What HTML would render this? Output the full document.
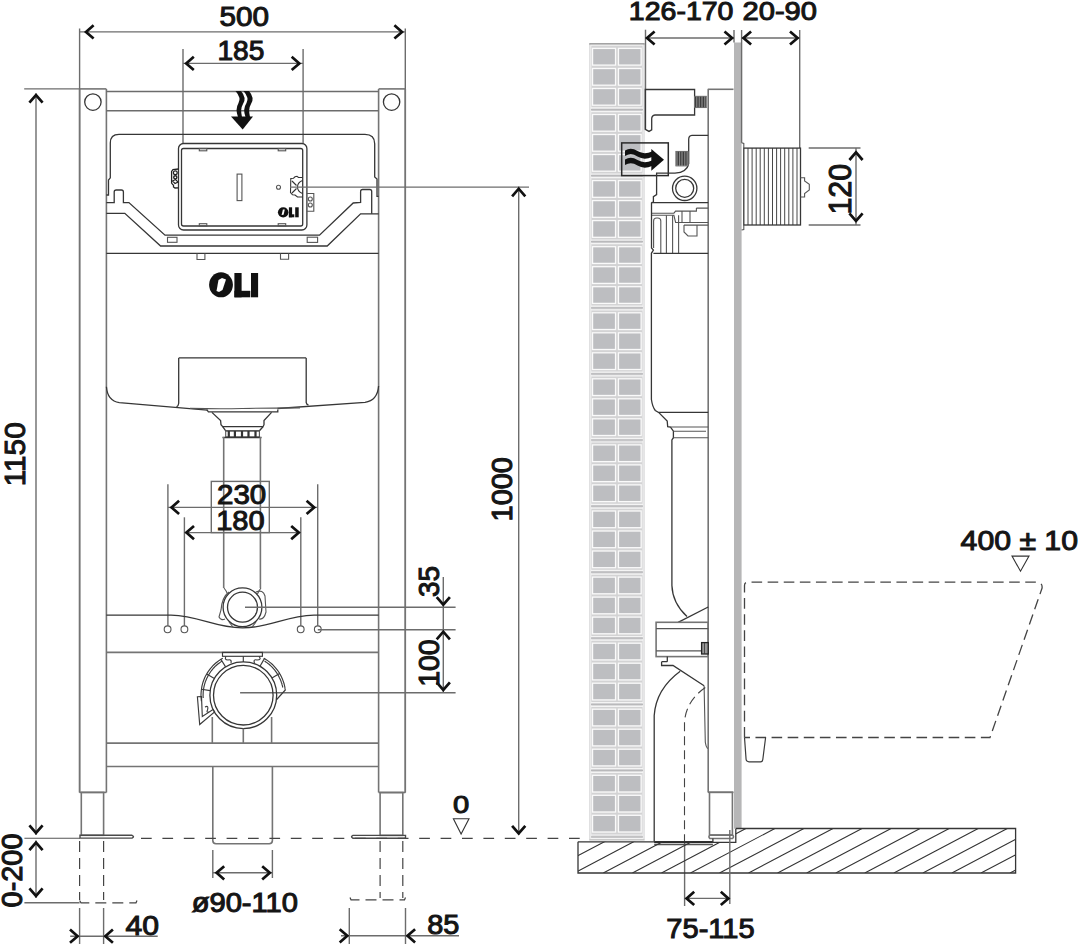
<!DOCTYPE html>
<html><head><meta charset="utf-8"><title>OLI frame drawing</title>
<style>html,body{margin:0;padding:0;background:#fff;width:1078px;height:944px;overflow:hidden}svg{display:block}</style>
</head><body>
<svg width="1078" height="944" viewBox="0 0 1078 944">
<rect width="1078" height="944" fill="#fff"/>
<rect x="589.3" y="43.5" width="55.3" height="796" fill="#d3d3d4"/>
<line x1="589.3" y1="43.9" x2="644.6" y2="43.9" stroke="#a3a3a3" stroke-width="1.8"/>
<rect x="590.8" y="45.2" width="52.3" height="794" fill="none" stroke="#f4f4f4" stroke-width="1"/>
<rect x="592.55" y="48.4" width="23.0" height="16.7" fill="#bdbec1" stroke="#fafafa" stroke-width="1.3"/>
<rect x="618.4499999999999" y="48.4" width="22.7" height="16.7" fill="#bdbec1" stroke="#fafafa" stroke-width="1.3"/>
<rect x="592.55" y="68.5" width="23.0" height="16.7" fill="#bdbec1" stroke="#fafafa" stroke-width="1.3"/>
<rect x="618.4499999999999" y="68.5" width="22.7" height="16.7" fill="#bdbec1" stroke="#fafafa" stroke-width="1.3"/>
<rect x="592.55" y="88.5" width="23.0" height="16.7" fill="#bdbec1" stroke="#fafafa" stroke-width="1.3"/>
<rect x="618.4499999999999" y="88.5" width="22.7" height="16.7" fill="#bdbec1" stroke="#fafafa" stroke-width="1.3"/>
<line x1="591" y1="107.9" x2="643" y2="107.9" stroke="#f4f4f4" stroke-width="1.2"/>
<line x1="591" y1="109.6" x2="643" y2="109.6" stroke="#b9b9bb" stroke-width="1.2"/>
<line x1="591" y1="111.6" x2="643" y2="111.6" stroke="#f4f4f4" stroke-width="1.2"/>
<rect x="592.55" y="114.5" width="23.0" height="16.7" fill="#bdbec1" stroke="#fafafa" stroke-width="1.3"/>
<rect x="618.4499999999999" y="114.5" width="22.7" height="16.7" fill="#bdbec1" stroke="#fafafa" stroke-width="1.3"/>
<rect x="592.55" y="134.5" width="23.0" height="16.7" fill="#bdbec1" stroke="#fafafa" stroke-width="1.3"/>
<rect x="618.4499999999999" y="134.5" width="22.7" height="16.7" fill="#bdbec1" stroke="#fafafa" stroke-width="1.3"/>
<rect x="592.55" y="154.5" width="23.0" height="16.7" fill="#bdbec1" stroke="#fafafa" stroke-width="1.3"/>
<rect x="618.4499999999999" y="154.5" width="22.7" height="16.7" fill="#bdbec1" stroke="#fafafa" stroke-width="1.3"/>
<line x1="591" y1="174.0" x2="643" y2="174.0" stroke="#f4f4f4" stroke-width="1.2"/>
<line x1="591" y1="175.7" x2="643" y2="175.7" stroke="#b9b9bb" stroke-width="1.2"/>
<line x1="591" y1="177.7" x2="643" y2="177.7" stroke="#f4f4f4" stroke-width="1.2"/>
<rect x="592.55" y="180.6" width="23.0" height="16.7" fill="#bdbec1" stroke="#fafafa" stroke-width="1.3"/>
<rect x="618.4499999999999" y="180.6" width="22.7" height="16.7" fill="#bdbec1" stroke="#fafafa" stroke-width="1.3"/>
<rect x="592.55" y="200.6" width="23.0" height="16.7" fill="#bdbec1" stroke="#fafafa" stroke-width="1.3"/>
<rect x="618.4499999999999" y="200.6" width="22.7" height="16.7" fill="#bdbec1" stroke="#fafafa" stroke-width="1.3"/>
<rect x="592.55" y="220.6" width="23.0" height="16.7" fill="#bdbec1" stroke="#fafafa" stroke-width="1.3"/>
<rect x="618.4499999999999" y="220.6" width="22.7" height="16.7" fill="#bdbec1" stroke="#fafafa" stroke-width="1.3"/>
<line x1="591" y1="240.0" x2="643" y2="240.0" stroke="#f4f4f4" stroke-width="1.2"/>
<line x1="591" y1="241.7" x2="643" y2="241.7" stroke="#b9b9bb" stroke-width="1.2"/>
<line x1="591" y1="243.7" x2="643" y2="243.7" stroke="#f4f4f4" stroke-width="1.2"/>
<rect x="592.55" y="246.7" width="23.0" height="16.7" fill="#bdbec1" stroke="#fafafa" stroke-width="1.3"/>
<rect x="618.4499999999999" y="246.7" width="22.7" height="16.7" fill="#bdbec1" stroke="#fafafa" stroke-width="1.3"/>
<rect x="592.55" y="266.7" width="23.0" height="16.7" fill="#bdbec1" stroke="#fafafa" stroke-width="1.3"/>
<rect x="618.4499999999999" y="266.7" width="22.7" height="16.7" fill="#bdbec1" stroke="#fafafa" stroke-width="1.3"/>
<rect x="592.55" y="286.7" width="23.0" height="16.7" fill="#bdbec1" stroke="#fafafa" stroke-width="1.3"/>
<rect x="618.4499999999999" y="286.7" width="22.7" height="16.7" fill="#bdbec1" stroke="#fafafa" stroke-width="1.3"/>
<line x1="591" y1="306.1" x2="643" y2="306.1" stroke="#f4f4f4" stroke-width="1.2"/>
<line x1="591" y1="307.8" x2="643" y2="307.8" stroke="#b9b9bb" stroke-width="1.2"/>
<line x1="591" y1="309.8" x2="643" y2="309.8" stroke="#f4f4f4" stroke-width="1.2"/>
<rect x="592.55" y="312.8" width="23.0" height="16.7" fill="#bdbec1" stroke="#fafafa" stroke-width="1.3"/>
<rect x="618.4499999999999" y="312.8" width="22.7" height="16.7" fill="#bdbec1" stroke="#fafafa" stroke-width="1.3"/>
<rect x="592.55" y="332.8" width="23.0" height="16.7" fill="#bdbec1" stroke="#fafafa" stroke-width="1.3"/>
<rect x="618.4499999999999" y="332.8" width="22.7" height="16.7" fill="#bdbec1" stroke="#fafafa" stroke-width="1.3"/>
<rect x="592.55" y="352.8" width="23.0" height="16.7" fill="#bdbec1" stroke="#fafafa" stroke-width="1.3"/>
<rect x="618.4499999999999" y="352.8" width="22.7" height="16.7" fill="#bdbec1" stroke="#fafafa" stroke-width="1.3"/>
<line x1="591" y1="372.2" x2="643" y2="372.2" stroke="#f4f4f4" stroke-width="1.2"/>
<line x1="591" y1="373.9" x2="643" y2="373.9" stroke="#b9b9bb" stroke-width="1.2"/>
<line x1="591" y1="375.9" x2="643" y2="375.9" stroke="#f4f4f4" stroke-width="1.2"/>
<rect x="592.55" y="378.8" width="23.0" height="16.7" fill="#bdbec1" stroke="#fafafa" stroke-width="1.3"/>
<rect x="618.4499999999999" y="378.8" width="22.7" height="16.7" fill="#bdbec1" stroke="#fafafa" stroke-width="1.3"/>
<rect x="592.55" y="398.8" width="23.0" height="16.7" fill="#bdbec1" stroke="#fafafa" stroke-width="1.3"/>
<rect x="618.4499999999999" y="398.8" width="22.7" height="16.7" fill="#bdbec1" stroke="#fafafa" stroke-width="1.3"/>
<rect x="592.55" y="418.8" width="23.0" height="16.7" fill="#bdbec1" stroke="#fafafa" stroke-width="1.3"/>
<rect x="618.4499999999999" y="418.8" width="22.7" height="16.7" fill="#bdbec1" stroke="#fafafa" stroke-width="1.3"/>
<line x1="591" y1="438.3" x2="643" y2="438.3" stroke="#f4f4f4" stroke-width="1.2"/>
<line x1="591" y1="440.0" x2="643" y2="440.0" stroke="#b9b9bb" stroke-width="1.2"/>
<line x1="591" y1="442.0" x2="643" y2="442.0" stroke="#f4f4f4" stroke-width="1.2"/>
<rect x="592.55" y="444.9" width="23.0" height="16.7" fill="#bdbec1" stroke="#fafafa" stroke-width="1.3"/>
<rect x="618.4499999999999" y="444.9" width="22.7" height="16.7" fill="#bdbec1" stroke="#fafafa" stroke-width="1.3"/>
<rect x="592.55" y="464.9" width="23.0" height="16.7" fill="#bdbec1" stroke="#fafafa" stroke-width="1.3"/>
<rect x="618.4499999999999" y="464.9" width="22.7" height="16.7" fill="#bdbec1" stroke="#fafafa" stroke-width="1.3"/>
<rect x="592.55" y="484.9" width="23.0" height="16.7" fill="#bdbec1" stroke="#fafafa" stroke-width="1.3"/>
<rect x="618.4499999999999" y="484.9" width="22.7" height="16.7" fill="#bdbec1" stroke="#fafafa" stroke-width="1.3"/>
<line x1="591" y1="504.4" x2="643" y2="504.4" stroke="#f4f4f4" stroke-width="1.2"/>
<line x1="591" y1="506.1" x2="643" y2="506.1" stroke="#b9b9bb" stroke-width="1.2"/>
<line x1="591" y1="508.1" x2="643" y2="508.1" stroke="#f4f4f4" stroke-width="1.2"/>
<rect x="592.55" y="511.0" width="23.0" height="16.7" fill="#bdbec1" stroke="#fafafa" stroke-width="1.3"/>
<rect x="618.4499999999999" y="511.0" width="22.7" height="16.7" fill="#bdbec1" stroke="#fafafa" stroke-width="1.3"/>
<rect x="592.55" y="531.0" width="23.0" height="16.7" fill="#bdbec1" stroke="#fafafa" stroke-width="1.3"/>
<rect x="618.4499999999999" y="531.0" width="22.7" height="16.7" fill="#bdbec1" stroke="#fafafa" stroke-width="1.3"/>
<rect x="592.55" y="551.0" width="23.0" height="16.7" fill="#bdbec1" stroke="#fafafa" stroke-width="1.3"/>
<rect x="618.4499999999999" y="551.0" width="22.7" height="16.7" fill="#bdbec1" stroke="#fafafa" stroke-width="1.3"/>
<line x1="591" y1="570.4" x2="643" y2="570.4" stroke="#f4f4f4" stroke-width="1.2"/>
<line x1="591" y1="572.1" x2="643" y2="572.1" stroke="#b9b9bb" stroke-width="1.2"/>
<line x1="591" y1="574.1" x2="643" y2="574.1" stroke="#f4f4f4" stroke-width="1.2"/>
<rect x="592.55" y="577.1" width="23.0" height="16.7" fill="#bdbec1" stroke="#fafafa" stroke-width="1.3"/>
<rect x="618.4499999999999" y="577.1" width="22.7" height="16.7" fill="#bdbec1" stroke="#fafafa" stroke-width="1.3"/>
<rect x="592.55" y="597.1" width="23.0" height="16.7" fill="#bdbec1" stroke="#fafafa" stroke-width="1.3"/>
<rect x="618.4499999999999" y="597.1" width="22.7" height="16.7" fill="#bdbec1" stroke="#fafafa" stroke-width="1.3"/>
<rect x="592.55" y="617.1" width="23.0" height="16.7" fill="#bdbec1" stroke="#fafafa" stroke-width="1.3"/>
<rect x="618.4499999999999" y="617.1" width="22.7" height="16.7" fill="#bdbec1" stroke="#fafafa" stroke-width="1.3"/>
<line x1="591" y1="636.5" x2="643" y2="636.5" stroke="#f4f4f4" stroke-width="1.2"/>
<line x1="591" y1="638.2" x2="643" y2="638.2" stroke="#b9b9bb" stroke-width="1.2"/>
<line x1="591" y1="640.2" x2="643" y2="640.2" stroke="#f4f4f4" stroke-width="1.2"/>
<rect x="592.55" y="643.2" width="23.0" height="16.7" fill="#bdbec1" stroke="#fafafa" stroke-width="1.3"/>
<rect x="618.4499999999999" y="643.2" width="22.7" height="16.7" fill="#bdbec1" stroke="#fafafa" stroke-width="1.3"/>
<rect x="592.55" y="663.2" width="23.0" height="16.7" fill="#bdbec1" stroke="#fafafa" stroke-width="1.3"/>
<rect x="618.4499999999999" y="663.2" width="22.7" height="16.7" fill="#bdbec1" stroke="#fafafa" stroke-width="1.3"/>
<rect x="592.55" y="683.2" width="23.0" height="16.7" fill="#bdbec1" stroke="#fafafa" stroke-width="1.3"/>
<rect x="618.4499999999999" y="683.2" width="22.7" height="16.7" fill="#bdbec1" stroke="#fafafa" stroke-width="1.3"/>
<line x1="591" y1="702.6" x2="643" y2="702.6" stroke="#f4f4f4" stroke-width="1.2"/>
<line x1="591" y1="704.3" x2="643" y2="704.3" stroke="#b9b9bb" stroke-width="1.2"/>
<line x1="591" y1="706.3" x2="643" y2="706.3" stroke="#f4f4f4" stroke-width="1.2"/>
<rect x="592.55" y="709.2" width="23.0" height="16.7" fill="#bdbec1" stroke="#fafafa" stroke-width="1.3"/>
<rect x="618.4499999999999" y="709.2" width="22.7" height="16.7" fill="#bdbec1" stroke="#fafafa" stroke-width="1.3"/>
<rect x="592.55" y="729.2" width="23.0" height="16.7" fill="#bdbec1" stroke="#fafafa" stroke-width="1.3"/>
<rect x="618.4499999999999" y="729.2" width="22.7" height="16.7" fill="#bdbec1" stroke="#fafafa" stroke-width="1.3"/>
<rect x="592.55" y="749.2" width="23.0" height="16.7" fill="#bdbec1" stroke="#fafafa" stroke-width="1.3"/>
<rect x="618.4499999999999" y="749.2" width="22.7" height="16.7" fill="#bdbec1" stroke="#fafafa" stroke-width="1.3"/>
<line x1="591" y1="768.7" x2="643" y2="768.7" stroke="#f4f4f4" stroke-width="1.2"/>
<line x1="591" y1="770.4" x2="643" y2="770.4" stroke="#b9b9bb" stroke-width="1.2"/>
<line x1="591" y1="772.4" x2="643" y2="772.4" stroke="#f4f4f4" stroke-width="1.2"/>
<rect x="592.55" y="775.3" width="23.0" height="16.7" fill="#bdbec1" stroke="#fafafa" stroke-width="1.3"/>
<rect x="618.4499999999999" y="775.3" width="22.7" height="16.7" fill="#bdbec1" stroke="#fafafa" stroke-width="1.3"/>
<rect x="592.55" y="795.3" width="23.0" height="16.7" fill="#bdbec1" stroke="#fafafa" stroke-width="1.3"/>
<rect x="618.4499999999999" y="795.3" width="22.7" height="16.7" fill="#bdbec1" stroke="#fafafa" stroke-width="1.3"/>
<rect x="592.55" y="815.3" width="23.0" height="16.7" fill="#bdbec1" stroke="#fafafa" stroke-width="1.3"/>
<rect x="618.4499999999999" y="815.3" width="22.7" height="16.7" fill="#bdbec1" stroke="#fafafa" stroke-width="1.3"/>
<line x1="591" y1="835.0" x2="643" y2="835.0" stroke="#f4f4f4" stroke-width="1.2"/>
<line x1="591" y1="836.8" x2="643" y2="836.8" stroke="#bcbcbe" stroke-width="1.2"/>
<line x1="591" y1="838.5" x2="643" y2="838.5" stroke="#f4f4f4" stroke-width="1.1"/>
<line x1="589.3" y1="839.9" x2="644.6" y2="839.9" stroke="#b0b0b0" stroke-width="1.0"/>
<line x1="79.6" y1="28.5" x2="79.6" y2="792.4" stroke="#6c6c6c" stroke-width="1.4" fill="none"/>
<line x1="405.3" y1="28.5" x2="405.3" y2="792.5" stroke="#6c6c6c" stroke-width="1.4" fill="none"/>
<line x1="79.6" y1="88.9" x2="106.4" y2="88.9" stroke="#747474" stroke-width="1.6" fill="none"/>
<line x1="378.6" y1="88.9" x2="405.3" y2="88.9" stroke="#747474" stroke-width="1.6" fill="none"/>
<line x1="106.4" y1="88.9" x2="106.4" y2="792.4" stroke="#747474" stroke-width="1.6" fill="none"/>
<line x1="378.6" y1="88.9" x2="378.6" y2="792.5" stroke="#747474" stroke-width="1.6" fill="none"/>
<line x1="79.6" y1="88.9" x2="79.6" y2="792.4" stroke="#747474" stroke-width="1.6" fill="none"/>
<line x1="405.3" y1="88.9" x2="405.3" y2="792.5" stroke="#747474" stroke-width="1.6" fill="none"/>
<line x1="79.6" y1="792.4" x2="106.4" y2="792.4" stroke="#747474" stroke-width="1.6" fill="none"/>
<line x1="378.6" y1="792.5" x2="405.3" y2="792.5" stroke="#747474" stroke-width="1.6" fill="none"/>
<line x1="106.4" y1="91.5" x2="378.6" y2="91.5" stroke="#6c6c6c" stroke-width="1.4" fill="none"/>
<line x1="106.4" y1="110.8" x2="378.6" y2="110.8" stroke="#6c6c6c" stroke-width="1.4" fill="none"/>
<circle cx="92.9" cy="102.1" r="8.2" stroke="#363636" stroke-width="1.3" fill="none"/>
<circle cx="391.6" cy="102.1" r="8.2" stroke="#363636" stroke-width="1.3" fill="none"/>
<line x1="24.2" y1="88.9" x2="79.6" y2="88.9" stroke="#6c6c6c" stroke-width="1.4" fill="none"/>
<line x1="80" y1="31.9" x2="405" y2="31.9" stroke="#6c6c6c" stroke-width="1.4" fill="none"/>
<path d="M93.6,25.299999999999997 L86,31.9 L93.6,38.5" stroke="#111" stroke-width="2.7" fill="none" stroke-linejoin="miter" stroke-linecap="butt"/>
<path d="M394.4,25.299999999999997 L402,31.9 L394.4,38.5" stroke="#111" stroke-width="2.7" fill="none" stroke-linejoin="miter" stroke-linecap="butt"/>
<text x="219.5" y="26.2" font-family="Liberation Sans" font-size="28.00" fill="#151515" stroke="#151515" stroke-width="1.05" textLength="49.5" lengthAdjust="spacingAndGlyphs">500</text>
<line x1="183" y1="49" x2="183" y2="143.5" stroke="#6c6c6c" stroke-width="1.4" fill="none"/>
<line x1="303.1" y1="49" x2="303.1" y2="143.5" stroke="#6c6c6c" stroke-width="1.4" fill="none"/>
<line x1="183" y1="63.4" x2="303.1" y2="63.4" stroke="#6c6c6c" stroke-width="1.4" fill="none"/>
<path d="M193.79999999999998,56.8 L186.2,63.4 L193.79999999999998,70.0" stroke="#111" stroke-width="2.7" fill="none" stroke-linejoin="miter" stroke-linecap="butt"/>
<path d="M291.7,56.8 L299.3,63.4 L291.7,70.0" stroke="#111" stroke-width="2.7" fill="none" stroke-linejoin="miter" stroke-linecap="butt"/>
<text x="217.39285714285717" y="59.599999999999994" font-family="Liberation Sans" font-size="28.14" fill="#151515" stroke="#151515" stroke-width="1.05" textLength="47.0" lengthAdjust="spacingAndGlyphs">185</text>
<path d="M106.4,195 L108.5,195 L108.5,180 L110.3,177.8 L110.3,143 Q110.3,134.3 119,134.3 L365,134.3 Q374.7,134.3 374.7,143.7 L374.7,177 L377,179 L377,196.4 L378.6,196.4" stroke="#363636" stroke-width="1.3" fill="none"/>
<path d="M106.4,202.6 L114.2,202.6 L114.2,192 Q114.2,190 116.2,190 L121.4,190 Q123.4,190 123.4,192 L123.4,202.6 L128.9,202.6 L165,235.2 L319.5,235.2 L353.2,203 L360.6,202.5 L360.6,191.5 Q360.6,189.5 362.6,189.5 L369.7,189.5 Q371.7,189.5 371.7,191.5 L371.7,213.8" stroke="#363636" stroke-width="1.3" fill="none"/>
<path d="M106.4,213.3 L124.8,213.3 L160.6,246 L327.2,246 L360.6,213.8 L378.6,213.8" stroke="#363636" stroke-width="1.3" fill="none"/>
<rect x="167.5" y="237.3" width="9.5" height="5" rx="0" stroke="#555" stroke-width="1.1" fill="none"/>
<rect x="307.2" y="237.2" width="10.4" height="5.2" rx="0" stroke="#555" stroke-width="1.1" fill="none"/>
<line x1="106.4" y1="253.4" x2="378.6" y2="253.4" stroke="#363636" stroke-width="1.3" fill="none"/>
<path d="M197,253.4 L197,259.5 L204.9,259.5 L204.9,253.4" stroke="#555" stroke-width="1.1" fill="none"/>
<path d="M280.5,253.4 L280.5,259.3 L288.6,259.3 L288.6,253.4" stroke="#555" stroke-width="1.1" fill="none"/>
<rect x="178.5" y="143.5" width="128.4" height="86.5" rx="5" stroke="#363636" stroke-width="1.3" fill="none"/>
<rect x="181.5" y="148.5" width="121.2" height="77.5" rx="2" stroke="#363636" stroke-width="1.3" fill="none"/>
<rect x="199.3" y="148.5" width="7.5" height="2.3" rx="0" stroke="#555" stroke-width="1.1" fill="none"/>
<rect x="199.3" y="223.7" width="7.5" height="2.3" rx="0" stroke="#555" stroke-width="1.1" fill="none"/>
<rect x="278.2" y="148.5" width="7.5" height="2.3" rx="0" stroke="#555" stroke-width="1.1" fill="none"/>
<rect x="278.2" y="223.7" width="7.5" height="2.3" rx="0" stroke="#555" stroke-width="1.1" fill="none"/>
<rect x="237.1" y="174.1" width="4.8" height="26.5" rx="0" stroke="#555" stroke-width="1.1" fill="none"/>
<circle cx="278.5" cy="187.2" r="2.0" stroke="#555" stroke-width="1.1" fill="none"/>
<path d="M178.5,169 L173,169.5 L171.6,171.5 L171.6,183 L173,185 M173.5,184.5 L173.5,187 L175,188 L178.5,187.8" stroke="#222" stroke-width="1.3" fill="none"/>
<circle cx="175.3" cy="172.8" r="1.9" stroke="#222" stroke-width="1.2" fill="none"/>
<circle cx="175.3" cy="177.3" r="1.6" stroke="#222" stroke-width="1.4" fill="none"/>
<path d="M172.5,181 L175.5,179.5 L178,182 L175,183.5 Z" stroke="#222" stroke-width="1.1" fill="none"/>
<path d="M302.5,177.5 L298.5,177.5 L297,176.3 L295,176.8 L293.5,178.2 L290.8,178.5 L290.5,192.5 L292.5,194.8 L295,195 L297.5,197 L302.5,197 M292,181 L296.5,185.5 M292,193 L296.5,188.5 M302.5,180.5 Q297.5,182.5 297.5,187 Q297.5,191.5 302.5,193.5" stroke="#333" stroke-width="1.1" fill="none"/>
<path d="M306.9,193.5 L313.8,193.5 L313.8,211.3 L306.9,211.3" stroke="#555" stroke-width="1.1" fill="none"/>
<circle cx="310.3" cy="199" r="2" stroke="#555" stroke-width="1.1" fill="none"/>
<circle cx="310.3" cy="205" r="2" stroke="#555" stroke-width="1.1" fill="none"/>
<g fill="#111"><ellipse cx="283.2" cy="212.3" rx="5.3" ry="5.1"/><rect x="288.9" y="207.3" width="3.2" height="10"/><rect x="288.9" y="214.3" width="5.4" height="3"/><rect x="295.2" y="207.3" width="3.5" height="10"/></g>
<path d="M281.6,215 L282.9,209.6 L284.8,209.4 L283.6,214.8 Z" fill="#fff"/>
<line x1="290" y1="187.1" x2="529" y2="187.1" stroke="#6c6c6c" stroke-width="1.4" fill="none"/>
<g fill="#111"><path d="M235.5,91 L241,91 Q247,98 243,104 Q240,109 242,117 L238,117 Q235,109 238.5,103 Q241.5,98 235.5,91 Z"/><path d="M243.5,91 L249,91 Q255,98 251,104 Q248,109 250,117 L245.5,117 Q242.5,109 246.5,103 Q249.5,98 243.5,91 Z"/><path d="M231,116.5 L253,116.5 L242.7,129.5 Z"/></g>
<g fill="#111"><ellipse cx="221" cy="284.8" rx="11.9" ry="12.5"/><rect x="234.4" y="273" width="7.2" height="24.3"/><rect x="234.4" y="290.8" width="15.9" height="6.5"/><rect x="251" y="273" width="7.1" height="24.3"/></g><path d="M216.5,291 L218.5,280 L222,278 L226,279.5 L222.5,290 L219,292 Z" fill="#fff"/>
<path d="M106.4,386.8 Q107.5,401 119.3,402.6 L207.4,410.2" stroke="#363636" stroke-width="1.3" fill="none"/>
<path d="M378.6,386 Q377.5,400.5 365,402.3 L277.5,408.5" stroke="#363636" stroke-width="1.3" fill="none"/>
<path d="M178.7,357.9 L306.2,357.9 M178.7,357.9 L178.7,403.3 Q178.5,406 176.5,406.8 M306.2,357.9 L306.2,402.5 Q306.6,404.5 308.5,405.2" stroke="#363636" stroke-width="1.3" fill="none"/>
<path d="M190,408.4 Q220,409 242,408.5 Q262,408 300,407.9" stroke="#555" stroke-width="1.1" fill="none"/>
<path d="M206.8,409.7 L208.4,411.9 L277.8,411.9 L277.8,409.5" stroke="#363636" stroke-width="1.3" fill="none"/>
<path d="M211.9,412.4 L220.6,420.6 L221,424.7 L222.7,426.7 L263,426.7 L264,424.7 L264,420.6 L271.6,412.4" stroke="#363636" stroke-width="1.3" fill="none"/>
<path d="M222.7,426.7 L225.7,430.8 L259.4,430.8 L263,426.7" stroke="#363636" stroke-width="1.3" fill="none"/>
<rect x="225.7" y="430.8" width="33.7" height="6.1" rx="0" stroke="#555" stroke-width="1.1" fill="none"/>
<rect x="227.70000000000002" y="431" width="2.2" height="6" fill="#333"/>
<rect x="233.8" y="431" width="2.2" height="6" fill="#333"/>
<rect x="240.9" y="431" width="2.2" height="6" fill="#333"/>
<rect x="247.4" y="431" width="2.2" height="6" fill="#333"/>
<rect x="254.4" y="431" width="2.2" height="6" fill="#333"/>
<path d="M222.5,437.5 L261.5,437.5" stroke="#363636" stroke-width="1.3" fill="none"/>
<line x1="223.7" y1="437" x2="223.7" y2="588" stroke="#747474" stroke-width="1.6" fill="none"/>
<line x1="260.4" y1="437" x2="260.4" y2="588" stroke="#747474" stroke-width="1.6" fill="none"/>
<line x1="167.9" y1="484.2" x2="167.9" y2="625.8" stroke="#6c6c6c" stroke-width="1.4" fill="none"/>
<line x1="317.7" y1="484.2" x2="317.7" y2="625.8" stroke="#6c6c6c" stroke-width="1.4" fill="none"/>
<line x1="184.4" y1="517.3" x2="184.4" y2="625.8" stroke="#6c6c6c" stroke-width="1.4" fill="none"/>
<line x1="300.8" y1="517.3" x2="300.8" y2="625.8" stroke="#6c6c6c" stroke-width="1.4" fill="none"/>
<line x1="167.9" y1="507.4" x2="317.7" y2="507.4" stroke="#6c6c6c" stroke-width="1.4" fill="none"/>
<path d="M179.1,500.79999999999995 L171.5,507.4 L179.1,514.0" stroke="#111" stroke-width="2.7" fill="none" stroke-linejoin="miter" stroke-linecap="butt"/>
<path d="M306.59999999999997,500.79999999999995 L314.2,507.4 L306.59999999999997,514.0" stroke="#111" stroke-width="2.7" fill="none" stroke-linejoin="miter" stroke-linecap="butt"/>
<line x1="184.4" y1="532.6" x2="300.8" y2="532.6" stroke="#6c6c6c" stroke-width="1.4" fill="none"/>
<path d="M194.0,526.0 L186.4,532.6 L194.0,539.2" stroke="#111" stroke-width="2.7" fill="none" stroke-linejoin="miter" stroke-linecap="butt"/>
<path d="M291.2,526.0 L298.8,532.6 L291.2,539.2" stroke="#111" stroke-width="2.7" fill="none" stroke-linejoin="miter" stroke-linecap="butt"/>
<rect x="211.3" y="481.4" width="58" height="51.2" rx="0" stroke="#6c6c6c" stroke-width="1.4" fill="none"/>
<text x="217.05714285714288" y="503.7" font-family="Liberation Sans" font-size="26.86" fill="#151515" stroke="#151515" stroke-width="1.05" textLength="49.2" lengthAdjust="spacingAndGlyphs">230</text>
<text x="216.18571428571428" y="529.9" font-family="Liberation Sans" font-size="28.29" fill="#151515" stroke="#151515" stroke-width="1.05" textLength="48.5" lengthAdjust="spacingAndGlyphs">180</text>
<circle cx="167.6" cy="629.3" r="3.4" stroke="#555" stroke-width="1.1" fill="none"/>
<circle cx="184.4" cy="629.3" r="3.4" stroke="#555" stroke-width="1.1" fill="none"/>
<circle cx="300.7" cy="629.3" r="3.4" stroke="#555" stroke-width="1.1" fill="none"/>
<circle cx="317.8" cy="629.3" r="3.4" stroke="#555" stroke-width="1.1" fill="none"/>
<path d="M106.4,615.2 L171,615.2 C200,616 215,628 242.5,627.9 C270,628 285,616 314,615.2 L378.6,615.2" stroke="#363636" stroke-width="1.3" fill="none"/>
<line x1="106.4" y1="652.4" x2="378.6" y2="652.4" stroke="#747474" stroke-width="1.6" fill="none"/>
<circle cx="242.5" cy="607.2" r="19.4" stroke="#363636" stroke-width="1.3" fill="none"/>
<circle cx="242.5" cy="607.2" r="15.0" stroke="#363636" stroke-width="1.3" fill="none"/>
<path d="M224,588 Q226.5,591 227.5,594 M261,588 Q258.5,591 257.5,594" stroke="#555" stroke-width="1.1" fill="none"/>
<path d="M229,592 Q222,597 221,610 L219,617 Q221,621 225,619" stroke="#555" stroke-width="1.1" fill="none"/>
<path d="M256,592 Q263,589 265,596 L266,612 Q264,620 259,619" stroke="#555" stroke-width="1.1" fill="none"/>
<path d="M229,622 L233,627 M256,622 L252,627" stroke="#555" stroke-width="1.1" fill="none"/>
<line x1="245" y1="607.2" x2="455.6" y2="607.2" stroke="#6c6c6c" stroke-width="1.4" fill="none"/>
<line x1="317.8" y1="629.7" x2="455.6" y2="629.7" stroke="#6c6c6c" stroke-width="1.4" fill="none"/>
<line x1="240.1" y1="692.8" x2="455.6" y2="692.8" stroke="#6c6c6c" stroke-width="1.4" fill="none"/>
<rect x="222.5" y="652.4" width="39.9" height="3.9" rx="0" stroke="#3a3a3a" stroke-width="1.15" fill="none"/>
<line x1="243.3" y1="656.3" x2="243.3" y2="661.9" stroke="#3a3a3a" stroke-width="1.15" fill="none"/>
<circle cx="243.3" cy="695.2" r="33.4" stroke="#363636" stroke-width="1.3" fill="none"/>
<circle cx="243.3" cy="695.2" r="29.8" stroke="#363636" stroke-width="1.3" fill="none"/>
<path d="M222.8,658.2 L221.0,659.3 L219.2,660.4 L217.5,661.7 L215.8,663.0 L214.2,664.5 L212.7,665.9 L211.3,667.5 L210.0,669.2 L208.7,670.9 L207.5,672.6 L206.4,674.5 L205.4,676.3 L204.5,678.2 L203.7,680.2 L203.0,682.2 L202.4,684.3 L201.9,686.3 L201.6,688.4 L201.3,690.5 L201.1,692.6 L201.0,694.7 L201.0,696.9 L201.2,699.0 L201.4,701.1" stroke="#3a3a3a" stroke-width="1.15" fill="none"/>
<path d="M222.0,661.1 L220.5,662.1 L219.0,663.2 L217.6,664.3 L216.2,665.5 L214.9,666.7 L213.7,668.0 L212.5,669.4 L211.3,670.8 L210.3,672.3 L209.3,673.8 L208.3,675.4 L207.5,676.9 L206.7,678.6 L206.0,680.2 L205.3,681.9 L204.8,683.7 L204.3,685.4 L203.9,687.2 L203.6,689.0 L203.3,690.8 L203.2,692.6 L203.1,694.4 L203.1,696.2 L203.2,698.0" stroke="#3a3a3a" stroke-width="1.15" fill="none"/>
<path d="M263.8,658.2 L265.2,659.0 L266.6,659.9 L268.0,660.9 L269.3,661.9 L270.6,662.9 L271.9,664.0 L273.1,665.2 L274.2,666.4 L275.3,667.6 L276.4,668.9 L277.4,670.2 L278.4,671.5 L279.3,672.9 L280.1,674.4 L280.9,675.8 L281.6,677.3 L282.3,678.8 L282.9,680.4 L283.5,682.0 L284.0,683.5 L284.4,685.1 L284.8,686.8 L285.0,688.4 L285.3,690.0 L276.7,699.5" stroke="#3a3a3a" stroke-width="1.15" fill="none"/>
<path d="M264.6,661.1 L265.8,661.9 L266.9,662.6 L268.0,663.5 L269.1,664.3 L270.1,665.2 L271.1,666.2 L272.1,667.1 L273.0,668.1 L273.9,669.2 L274.8,670.2 L275.6,671.3 L276.4,672.4 L277.2,673.6 L277.9,674.7 L278.6,675.9 L279.2,677.2 L279.8,678.4 L280.4,679.7 L280.9,680.9 L281.3,682.2 L281.8,683.5 L282.1,684.9 L282.5,686.2 L282.8,687.5" stroke="#3a3a3a" stroke-width="1.15" fill="none"/>
<line x1="210.2" y1="690.6" x2="201.4" y2="689.3" stroke="#3a3a3a" stroke-width="1.15" fill="none"/>
<line x1="214.4" y1="678.5" x2="206.7" y2="674.1" stroke="#3a3a3a" stroke-width="1.15" fill="none"/>
<line x1="225.6" y1="666.9" x2="220.9" y2="659.3" stroke="#3a3a3a" stroke-width="1.15" fill="none"/>
<line x1="260.0" y1="666.3" x2="264.4" y2="658.6" stroke="#3a3a3a" stroke-width="1.15" fill="none"/>
<line x1="271.9" y1="678.0" x2="279.6" y2="673.4" stroke="#3a3a3a" stroke-width="1.15" fill="none"/>
<path d="M226,656.3 Q224,660 228,660 Q232,659 231,663" stroke="#3a3a3a" stroke-width="1.15" fill="none"/>
<path d="M259,656.3 Q262,660 257,660 Q253,659 254.5,663" stroke="#3a3a3a" stroke-width="1.15" fill="none"/>
<path d="M201.5,696.5 L197.4,696.7 L199.7,724.5 L214.6,712 L213,709.5 L202.3,716.5 Z" stroke="#3a3a3a" stroke-width="1.15" fill="none"/>
<path d="M205,707 Q209,705 207.5,710 Q206,713 209,712" stroke="#3a3a3a" stroke-width="1.15" fill="none"/>
<line x1="212.3" y1="717" x2="212.3" y2="743.2" stroke="#747474" stroke-width="1.6" fill="none"/>
<line x1="243.3" y1="728.6" x2="243.3" y2="743.2" stroke="#747474" stroke-width="1.6" fill="none"/>
<line x1="271.6" y1="717" x2="271.6" y2="743.2" stroke="#747474" stroke-width="1.6" fill="none"/>
<line x1="106.4" y1="743.1" x2="378.6" y2="743.1" stroke="#747474" stroke-width="1.6" fill="none"/>
<line x1="106.4" y1="766.5" x2="378.6" y2="766.5" stroke="#747474" stroke-width="1.6" fill="none"/>
<path d="M212.8,766.5 L212.8,840.5 Q212.8,843.7 216,843.7 L269.2,843.7 Q272.4,843.7 272.4,840.5 L272.4,766.5" stroke="#747474" stroke-width="1.6" fill="none"/>
<line x1="212.8" y1="850" x2="212.8" y2="878" stroke="#6c6c6c" stroke-width="1.4" fill="none"/>
<line x1="272.4" y1="850" x2="272.4" y2="878" stroke="#6c6c6c" stroke-width="1.4" fill="none"/>
<line x1="212.8" y1="872.8" x2="272.4" y2="872.8" stroke="#6c6c6c" stroke-width="1.4" fill="none"/>
<path d="M224.2,866.1999999999999 L216.6,872.8 L224.2,879.4" stroke="#111" stroke-width="2.7" fill="none" stroke-linejoin="miter" stroke-linecap="butt"/>
<path d="M262.2,866.1999999999999 L269.8,872.8 L262.2,879.4" stroke="#111" stroke-width="2.7" fill="none" stroke-linejoin="miter" stroke-linecap="butt"/>
<text x="191.65714285714284" y="912.0" font-family="Liberation Sans" font-size="26.86" fill="#151515" stroke="#151515" stroke-width="1.05" textLength="106.3" lengthAdjust="spacingAndGlyphs">ø90-110</text>
<rect x="81.3" y="792.4" width="22.3" height="42.9" rx="0" stroke="#747474" stroke-width="1.6" fill="none"/>
<rect x="380.1" y="792.5" width="22.7" height="42.9" rx="0" stroke="#747474" stroke-width="1.6" fill="none"/>
<path d="M80,835.3 L132,835.3 Q135,836.7 132,838.1 L80,838.1 Z" stroke="#4a4a4a" stroke-width="1.4" fill="none"/>
<path d="M353,835.4 L405.5,835.4 L405.5,838.3 L353,838.3 Q350,836.8 353,835.4 Z" stroke="#4a4a4a" stroke-width="1.4" fill="none"/>
<line x1="24.4" y1="838.2" x2="80" y2="838.2" stroke="#555" stroke-width="1.1"/>
<line x1="135" y1="838.4" x2="580" y2="838.4" stroke="#444" stroke-width="1.2" stroke-dasharray="10.7 10.7" stroke-dashoffset="-6"/>
<line x1="79.6" y1="841" x2="79.6" y2="900" stroke="#444" stroke-width="1.2" stroke-dasharray="11 6" fill="none"/>
<line x1="103.6" y1="841" x2="103.6" y2="900" stroke="#444" stroke-width="1.2" stroke-dasharray="11 6" fill="none"/>
<line x1="380.1" y1="841" x2="380.1" y2="898" stroke="#444" stroke-width="1.2" stroke-dasharray="11 6" fill="none"/>
<line x1="402.8" y1="841" x2="402.8" y2="898" stroke="#444" stroke-width="1.2" stroke-dasharray="11 6" fill="none"/>
<path d="M79.6,900.5 L81,902.8 L136,902.8 L137,900.5" stroke="#444" stroke-width="1.2" stroke-dasharray="11 6" fill="none"/>
<path d="M350,897.5 L351,899.8 L404.5,899.8 L405.5,897.5" stroke="#444" stroke-width="1.2" stroke-dasharray="11 6" fill="none"/>
<line x1="24.4" y1="902.8" x2="79.6" y2="902.8" stroke="#6c6c6c" stroke-width="1.4" fill="none"/>
<line x1="36" y1="93.6" x2="36" y2="835" stroke="#6c6c6c" stroke-width="1.4" fill="none"/>
<path d="M29.4,102.69999999999999 L36,95.1 L42.6,102.69999999999999" stroke="#111" stroke-width="2.7" fill="none" stroke-linejoin="miter" stroke-linecap="butt"/>
<path d="M29.4,825.4 L36,833 L42.6,825.4" stroke="#111" stroke-width="2.7" fill="none" stroke-linejoin="miter" stroke-linecap="butt"/>
<text transform="translate(25.2,486.3071428571429) rotate(-90)" x="0" y="0" font-family="Liberation Sans" font-size="30.14" fill="#151515" stroke="#151515" stroke-width="1.05" textLength="64.0" lengthAdjust="spacingAndGlyphs">1150</text>
<line x1="36" y1="840.5" x2="36" y2="898" stroke="#6c6c6c" stroke-width="1.4" fill="none"/>
<path d="M29.4,850.1 L36,842.5 L42.6,850.1" stroke="#111" stroke-width="2.7" fill="none" stroke-linejoin="miter" stroke-linecap="butt"/>
<path d="M29.4,888.4 L36,896 L42.6,888.4" stroke="#111" stroke-width="2.7" fill="none" stroke-linejoin="miter" stroke-linecap="butt"/>
<text transform="translate(21.6,907.4357142857143) rotate(-90)" x="0" y="0" font-family="Liberation Sans" font-size="28.71" fill="#151515" stroke="#151515" stroke-width="1.05" textLength="73.9" lengthAdjust="spacingAndGlyphs">0-200</text>
<line x1="79.6" y1="908" x2="79.6" y2="944" stroke="#6c6c6c" stroke-width="1.4" fill="none"/>
<line x1="103.6" y1="908" x2="103.6" y2="944" stroke="#6c6c6c" stroke-width="1.4" fill="none"/>
<line x1="70.2" y1="936.2" x2="157.7" y2="936.2" stroke="#6c6c6c" stroke-width="1.4" fill="none"/>
<path d="M70.0,929.6 L77.6,936.2 L70.0,942.8000000000001" stroke="#111" stroke-width="2.7" fill="none" stroke-linejoin="miter" stroke-linecap="butt"/>
<path d="M112.89999999999999,929.6 L105.3,936.2 L112.89999999999999,942.8000000000001" stroke="#111" stroke-width="2.7" fill="none" stroke-linejoin="miter" stroke-linecap="butt"/>
<text x="125.61428571428571" y="934.6999999999999" font-family="Liberation Sans" font-size="27.71" fill="#151515" stroke="#151515" stroke-width="1.05" textLength="33.5" lengthAdjust="spacingAndGlyphs">40</text>
<line x1="349.3" y1="908" x2="349.3" y2="944" stroke="#6c6c6c" stroke-width="1.4" fill="none"/>
<line x1="405.5" y1="908" x2="405.5" y2="944" stroke="#6c6c6c" stroke-width="1.4" fill="none"/>
<line x1="341" y1="935.8" x2="459" y2="935.8" stroke="#6c6c6c" stroke-width="1.4" fill="none"/>
<path d="M339.7,929.1999999999999 L347.3,935.8 L339.7,942.4" stroke="#111" stroke-width="2.7" fill="none" stroke-linejoin="miter" stroke-linecap="butt"/>
<path d="M415.1,929.1999999999999 L407.5,935.8 L415.1,942.4" stroke="#111" stroke-width="2.7" fill="none" stroke-linejoin="miter" stroke-linecap="butt"/>
<text x="427.15" y="934.3" font-family="Liberation Sans" font-size="27.00" fill="#151515" stroke="#151515" stroke-width="1.05" textLength="32.2" lengthAdjust="spacingAndGlyphs">85</text>
<text x="453.0857142857143" y="812.6999999999999" font-family="Liberation Sans" font-size="24.29" fill="#151515" stroke="#151515" stroke-width="1.05" textLength="16.2" lengthAdjust="spacingAndGlyphs">0</text>
<path d="M453.4,818.8 L469,818.8 L461.1,834.1 Z" stroke="#333" stroke-width="1.1" fill="none"/>
<line x1="518.7" y1="186.5" x2="518.7" y2="835" stroke="#6c6c6c" stroke-width="1.4" fill="none"/>
<path d="M512.1,196.29999999999998 L518.7,188.7 L525.3000000000001,196.29999999999998" stroke="#111" stroke-width="2.7" fill="none" stroke-linejoin="miter" stroke-linecap="butt"/>
<path d="M512.1,825.9 L518.7,833.5 L525.3000000000001,825.9" stroke="#111" stroke-width="2.7" fill="none" stroke-linejoin="miter" stroke-linecap="butt"/>
<text transform="translate(512.1,521.4285714285714) rotate(-90)" x="0" y="0" font-family="Liberation Sans" font-size="28.57" fill="#151515" stroke="#151515" stroke-width="1.05" textLength="64.4" lengthAdjust="spacingAndGlyphs">1000</text>
<line x1="443.3" y1="577" x2="443.3" y2="692" stroke="#6c6c6c" stroke-width="1.4" fill="none"/>
<path d="M436.7,597.1 L443.3,604.7 L449.90000000000003,597.1" stroke="#111" stroke-width="2.7" fill="none" stroke-linejoin="miter" stroke-linecap="butt"/>
<path d="M436.7,639.3000000000001 L443.3,631.7 L449.90000000000003,639.3000000000001" stroke="#111" stroke-width="2.7" fill="none" stroke-linejoin="miter" stroke-linecap="butt"/>
<path d="M436.7,682.4 L443.3,690 L449.90000000000003,682.4" stroke="#111" stroke-width="2.7" fill="none" stroke-linejoin="miter" stroke-linecap="butt"/>
<text transform="translate(438.90000000000003,597.0642857142857) rotate(-90)" x="0" y="0" font-family="Liberation Sans" font-size="29.29" fill="#151515" stroke="#151515" stroke-width="1.05" textLength="31.1" lengthAdjust="spacingAndGlyphs">35</text>
<text transform="translate(438.90000000000003,686.8642857142856) rotate(-90)" x="0" y="0" font-family="Liberation Sans" font-size="29.29" fill="#151515" stroke="#151515" stroke-width="1.05" textLength="47.4" lengthAdjust="spacingAndGlyphs">100</text>
<rect x="734" y="42.5" width="7.6" height="786.2" fill="#b6b6b7"/>
<line x1="645.5" y1="29.7" x2="645.5" y2="129.3" stroke="#6c6c6c" stroke-width="1.4" fill="none"/>
<line x1="734" y1="30" x2="734" y2="42.5" stroke="#6c6c6c" stroke-width="1.4" fill="none"/>
<line x1="741.6" y1="30" x2="741.6" y2="142.8" stroke="#6c6c6c" stroke-width="1.4" fill="none"/>
<line x1="799.7" y1="30" x2="799.7" y2="148" stroke="#6c6c6c" stroke-width="1.4" fill="none"/>
<line x1="645.5" y1="38" x2="734" y2="38" stroke="#6c6c6c" stroke-width="1.4" fill="none"/>
<path d="M654.6,31.4 L647,38 L654.6,44.6" stroke="#111" stroke-width="2.7" fill="none" stroke-linejoin="miter" stroke-linecap="butt"/>
<path d="M724.5,31.4 L732.1,38 L724.5,44.6" stroke="#111" stroke-width="2.7" fill="none" stroke-linejoin="miter" stroke-linecap="butt"/>
<line x1="741.6" y1="38" x2="799.7" y2="38" stroke="#6c6c6c" stroke-width="1.4" fill="none"/>
<path d="M751.1,31.4 L743.5,38 L751.1,44.6" stroke="#111" stroke-width="2.7" fill="none" stroke-linejoin="miter" stroke-linecap="butt"/>
<path d="M790.0,31.4 L797.6,38 L790.0,44.6" stroke="#111" stroke-width="2.7" fill="none" stroke-linejoin="miter" stroke-linecap="butt"/>
<text x="628.8857142857144" y="19.8" font-family="Liberation Sans" font-size="26.29" fill="#151515" stroke="#151515" stroke-width="1.05" textLength="104.6" lengthAdjust="spacingAndGlyphs">126-170</text>
<text x="742.5857142857143" y="19.8" font-family="Liberation Sans" font-size="26.29" fill="#151515" stroke="#151515" stroke-width="1.05" textLength="74.4" lengthAdjust="spacingAndGlyphs">20-90</text>
<line x1="707.8" y1="89.3" x2="733.5" y2="89.3" stroke="#747474" stroke-width="1.6" fill="none"/>
<line x1="708.2" y1="89.3" x2="708.2" y2="792.3" stroke="#747474" stroke-width="1.6" fill="none"/>
<rect x="709.5" y="792.3" width="22.9" height="42.8" rx="0" stroke="#747474" stroke-width="1.6" fill="none"/>
<line x1="707.8" y1="792.3" x2="733.5" y2="792.3" stroke="#747474" stroke-width="1.6" fill="none"/>
<path d="M710,835.1 L732.5,835.1 Q734.5,836.8 732.5,838.5 L710,838.5 Q707.8,836.8 710,835.1 Z" stroke="#747474" stroke-width="1.6" fill="none"/>
<path d="M645.3,89.5 L694.6,89.5 L694.6,115 L655,115 Q651.7,115.5 651.7,118.7 L651.7,129.8 L649,131.4 L645.3,129.3 Z" stroke="#363636" stroke-width="1.3" fill="none"/>
<rect x="694.6" y="96.4" width="11.6" height="11.1" rx="0" stroke="#555" stroke-width="1.1" fill="none"/>
<rect x="694.6" y="96.4" width="11.6" height="11.1" fill="#a8a8a8"/>
<line x1="695.6" y1="96.6" x2="695.6" y2="107.3" stroke="#222" stroke-width="0.9"/>
<line x1="697.2" y1="96.6" x2="697.2" y2="107.3" stroke="#222" stroke-width="0.9"/>
<line x1="698.8" y1="96.6" x2="698.8" y2="107.3" stroke="#222" stroke-width="0.9"/>
<line x1="700.4" y1="96.6" x2="700.4" y2="107.3" stroke="#222" stroke-width="0.9"/>
<line x1="702.0" y1="96.6" x2="702.0" y2="107.3" stroke="#222" stroke-width="0.9"/>
<line x1="703.6" y1="96.6" x2="703.6" y2="107.3" stroke="#222" stroke-width="0.9"/>
<line x1="705.2" y1="96.6" x2="705.2" y2="107.3" stroke="#222" stroke-width="0.9"/>
<rect x="621.7" y="142.9" width="46.6" height="32.7" rx="0" stroke="#2a2a2a" stroke-width="1.5" fill="none"/>
<g fill="#111"><path d="M625,150.5 Q631,147 637.5,151 Q644,155 652,151.5 L652,157 Q644,160.5 637.5,156.5 Q631,152.5 625,156 Z"/><path d="M625,159.5 Q631,156 637.5,160 Q644,164 652,160.5 L652,166 Q644,169.5 637.5,165.5 Q631,161.5 625,165 Z"/><path d="M651.3,149 L664,159.7 L651.3,170.8 Z"/></g>
<path d="M708.2,135.3 L691.9,135.3 Q688.7,135.5 688.7,139.3 L688.7,163.7 Q687,172.5 675,173.2 L656.6,173.2 L656.6,194.6 L653.4,196.7 L653.4,202 L651.5,202.6" stroke="#363636" stroke-width="1.3" fill="none"/>
<rect x="676" y="151.5" width="12.2" height="14.3" rx="0" stroke="#555" stroke-width="1.1" fill="none"/>
<rect x="676" y="151.5" width="12.2" height="14.3" fill="#a8a8a8"/>
<line x1="677.0" y1="151.7" x2="677.0" y2="165.6" stroke="#222" stroke-width="0.9"/>
<line x1="678.6" y1="151.7" x2="678.6" y2="165.6" stroke="#222" stroke-width="0.9"/>
<line x1="680.3" y1="151.7" x2="680.3" y2="165.6" stroke="#222" stroke-width="0.9"/>
<line x1="682.0" y1="151.7" x2="682.0" y2="165.6" stroke="#222" stroke-width="0.9"/>
<line x1="683.6" y1="151.7" x2="683.6" y2="165.6" stroke="#222" stroke-width="0.9"/>
<line x1="685.2" y1="151.7" x2="685.2" y2="165.6" stroke="#222" stroke-width="0.9"/>
<line x1="686.9" y1="151.7" x2="686.9" y2="165.6" stroke="#222" stroke-width="0.9"/>
<circle cx="684.7" cy="188.3" r="12.2" stroke="#363636" stroke-width="1.3" fill="none"/>
<circle cx="684.7" cy="188.3" r="9.0" stroke="#363636" stroke-width="1.3" fill="none"/>
<line x1="651.5" y1="202.6" x2="708.2" y2="202.6" stroke="#363636" stroke-width="1.3" fill="none"/>
<path d="M696.4,208.1 L708.2,208.1 M696.4,208.1 L696.4,211.1 L675.6,211.1 L673.9,213.2 L651.5,213.2 M651.5,215.3 L673.9,215.3 L675.6,222.5 L684,222.5" stroke="#555" stroke-width="1.1" fill="none"/>
<path d="M684,222.5 L708.2,222.5 M684,225.1 L708.2,225.1 M684,225.1 L684,232 L688,236 L697,236 L697,225.1" stroke="#555" stroke-width="1.1" fill="none"/>
<path d="M653.6,248 L653.6,221 Q653.6,218 656.5,218 L657.8,218 Q660.8,218 660.8,221 L660.8,253.3" stroke="#555" stroke-width="1.1" fill="none"/>
<line x1="666.4" y1="215.3" x2="666.4" y2="253.3" stroke="#555" stroke-width="1.1" fill="none"/>
<line x1="672.6" y1="215.3" x2="672.6" y2="253.3" stroke="#555" stroke-width="1.1" fill="none"/>
<line x1="678.6" y1="215.3" x2="678.6" y2="253.3" stroke="#555" stroke-width="1.1" fill="none"/>
<line x1="682" y1="211.1" x2="682" y2="222.5" stroke="#555" stroke-width="1.1" fill="none"/>
<line x1="690" y1="211.1" x2="690" y2="222.5" stroke="#555" stroke-width="1.1" fill="none"/>
<line x1="653.4" y1="253.3" x2="708.2" y2="253.3" stroke="#363636" stroke-width="1.3" fill="none"/>
<path d="M651.5,202.6 L651.5,248 L653.4,250 L651.4,253.3 L651.4,399.5 Q652.5,407 655.3,410.5 L658.6,412.4 L667.2,421 L667.7,426.7 L670.5,427.2 L673.4,431.2 L673.4,437.7 L671.9,440 L671.9,585.4 Q672.5,603 687,616.5" stroke="#363636" stroke-width="1.3" fill="none"/>
<line x1="658.6" y1="412.4" x2="708.2" y2="412.4" stroke="#363636" stroke-width="1.3" fill="none"/>
<line x1="670.5" y1="427" x2="708.2" y2="427" stroke="#555" stroke-width="1.1" fill="none"/>
<line x1="673.4" y1="431.2" x2="706" y2="431.2" stroke="#555" stroke-width="1.1" fill="none"/>
<line x1="673.4" y1="437.7" x2="708.2" y2="437.7" stroke="#555" stroke-width="1.1" fill="none"/>
<line x1="678.1" y1="622.3" x2="708.2" y2="607" stroke="#363636" stroke-width="1.3" fill="none"/>
<rect x="656.1" y="622.3" width="52.1" height="34.3" rx="0" stroke="#747474" stroke-width="1.6" fill="none"/>
<line x1="656.1" y1="628.6" x2="708.2" y2="628.6" stroke="#555" stroke-width="1.1" fill="none"/>
<line x1="656.1" y1="650.9" x2="708.2" y2="650.9" stroke="#555" stroke-width="1.1" fill="none"/>
<rect x="701.6" y="642.6" width="6.6" height="11.4" rx="0" stroke="#222" stroke-width="1.3" fill="#999"/>
<line x1="704.5" y1="643" x2="704.5" y2="654" stroke="#333" stroke-width="0.8"/>
<path d="M667.3,656.6 L667.3,661.7 M661.6,661.7 L667.3,661.7 M661.6,661.7 L661.6,665.5 L673,665.5 L704.1,685.7" stroke="#363636" stroke-width="1.3" fill="none"/>
<path d="M680.2,671.2 Q656,689 654.2,715.5 L654.2,841.4" stroke="#363636" stroke-width="1.3" fill="none"/>
<path d="M704.1,685.7 L705.3,742.3 Q705.8,746.5 707.6,748.7" stroke="#555" stroke-width="1.1" fill="none"/>
<path d="M705.3,687.5 Q686,701 684.5,722 L684.5,842" stroke="#444" stroke-width="1.1" fill="none" stroke-dasharray="9 5"/>
<line x1="684.6" y1="842" x2="684.6" y2="906" stroke="#6c6c6c" stroke-width="1.4" fill="none"/>
<path d="M654.2,842.2 L712.9,842.2" stroke="#222" stroke-width="2.2"/>
<line x1="654.2" y1="844.6" x2="712.9" y2="844.6" stroke="#555" stroke-width="1.1" fill="none"/>
<path d="M712.9,838.5 L712.9,842.3 L735.8,842.3 L735.8,828.7" stroke="#363636" stroke-width="1.3" fill="none"/>
<defs><clipPath id="slab"><path d="M578,841.8 L712.9,841.8 L712.9,842.3 L735.8,842.3 L735.8,828.5 L1015.6,828.5 L1015.6,873 L578,873 Z"/></clipPath></defs>
<path d="M545.2,873 L629.6,828.5 M574.3,873 L658.7,828.5 M603.3,873 L687.7,828.5 M632.4,873 L716.8,828.5 M661.5,873 L745.9,828.5 M690.5,873 L774.9,828.5 M719.5,873 L803.9,828.5 M748.6,873 L833.0,828.5 M777.6,873 L862.0,828.5 M806.7,873 L891.1,828.5 M835.8,873 L920.1,828.5 M864.8,873 L949.2,828.5 M893.9,873 L978.2,828.5 M922.9,873 L1007.3,828.5 M951.9,873 L1036.3,828.5 M981.0,873 L1065.4,828.5 M1010.0,873 L1094.5,828.5" stroke="#333" stroke-width="1.1" fill="none" clip-path="url(#slab)"/>
<path d="M578,841.8 L712.9,841.8 M735.8,828.5 L1015.6,828.5 L1015.6,873 L578,873 L578,841.8" stroke="#363636" stroke-width="1.3" fill="none"/>
<line x1="729.8" y1="830" x2="729.8" y2="904" stroke="#6c6c6c" stroke-width="1.4" fill="none"/>
<line x1="684.6" y1="898.4" x2="729.8" y2="898.4" stroke="#6c6c6c" stroke-width="1.4" fill="none"/>
<path d="M694.2,891.8 L686.6,898.4 L694.2,905.0" stroke="#111" stroke-width="2.7" fill="none" stroke-linejoin="miter" stroke-linecap="butt"/>
<path d="M720.8,891.8 L728.4,898.4 L720.8,905.0" stroke="#111" stroke-width="2.7" fill="none" stroke-linejoin="miter" stroke-linecap="butt"/>
<text x="666.3857142857142" y="937.5" font-family="Liberation Sans" font-size="28.29" fill="#151515" stroke="#151515" stroke-width="1.05" textLength="88.3" lengthAdjust="spacingAndGlyphs">75-115</text>
<rect x="743.8" y="148.1" width="56.7" height="76.9" rx="0" stroke="#363636" stroke-width="1.3" fill="none"/>
<line x1="748.0" y1="148.1" x2="748.0" y2="225" stroke="#333" stroke-width="0.9"/>
<line x1="752.1" y1="148.1" x2="752.1" y2="225" stroke="#333" stroke-width="0.9"/>
<line x1="756.2" y1="148.1" x2="756.2" y2="225" stroke="#333" stroke-width="0.9"/>
<line x1="760.2" y1="148.1" x2="760.2" y2="225" stroke="#333" stroke-width="0.9"/>
<line x1="764.3" y1="148.1" x2="764.3" y2="225" stroke="#333" stroke-width="0.9"/>
<line x1="768.4" y1="148.1" x2="768.4" y2="225" stroke="#333" stroke-width="0.9"/>
<line x1="772.5" y1="148.1" x2="772.5" y2="225" stroke="#333" stroke-width="0.9"/>
<line x1="776.6" y1="148.1" x2="776.6" y2="225" stroke="#333" stroke-width="0.9"/>
<line x1="780.6" y1="148.1" x2="780.6" y2="225" stroke="#333" stroke-width="0.9"/>
<line x1="784.7" y1="148.1" x2="784.7" y2="225" stroke="#333" stroke-width="0.9"/>
<line x1="788.8" y1="148.1" x2="788.8" y2="225" stroke="#333" stroke-width="0.9"/>
<line x1="792.9" y1="148.1" x2="792.9" y2="225" stroke="#333" stroke-width="0.9"/>
<line x1="797.0" y1="148.1" x2="797.0" y2="225" stroke="#333" stroke-width="0.9"/>
<path d="M741.6,142.8 L743.8,143.5 L743.8,148.1 M743.8,225 L743.8,229.5 L741.6,230" stroke="#555" stroke-width="1.1" fill="none"/>
<path d="M800.5,177.8 L804.6,177.8 L804.6,181 L809.3,184.2 L809.3,190 L804.6,193.5 L804.6,197 L800.5,197" stroke="#555" stroke-width="1.1" fill="none"/>
<line x1="808.7" y1="148" x2="860.5" y2="148" stroke="#6c6c6c" stroke-width="1.4" fill="none"/>
<line x1="808.7" y1="225" x2="860.5" y2="225" stroke="#6c6c6c" stroke-width="1.4" fill="none"/>
<line x1="856" y1="148" x2="856" y2="225" stroke="#6c6c6c" stroke-width="1.4" fill="none"/>
<path d="M849.4,160.0 L856,152.4 L862.6,160.0" stroke="#111" stroke-width="2.7" fill="none" stroke-linejoin="miter" stroke-linecap="butt"/>
<path d="M849.4,213.4 L856,221 L862.6,213.4" stroke="#111" stroke-width="2.7" fill="none" stroke-linejoin="miter" stroke-linecap="butt"/>
<text transform="translate(850.9,214.55) rotate(-90)" x="0" y="0" font-family="Liberation Sans" font-size="31.00" fill="#151515" stroke="#151515" stroke-width="1.05" textLength="50.7" lengthAdjust="spacingAndGlyphs">120</text>
<path d="M744.5,737.5 L744.5,585.4 Q744.5,582.2 747.7,582.2 L1036,582.2 Q1043,582.5 1042,588.3 L990,737.5 L744.5,737.5" stroke="#444" stroke-width="1.3" fill="none" stroke-dasharray="10.6 5.5"/>
<path d="M744.5,737.5 L746.1,759.5 Q746.5,761.8 749,761.8 L760.5,761.8 Q762.6,761.8 762.8,759.5 L765.6,737.5" stroke="#3a3a3a" stroke-width="1.2" fill="none"/>
<text x="960.5785714285714" y="549.5999999999999" font-family="Liberation Sans" font-size="28.43" fill="#151515" stroke="#151515" stroke-width="1.05" textLength="117.4" lengthAdjust="spacingAndGlyphs">400 ± 10</text>
<path d="M1012,556.1 L1029,556.1 L1020.5,571.2 Z" stroke="#333" stroke-width="1.1" fill="none"/>
</svg>
</body></html>
